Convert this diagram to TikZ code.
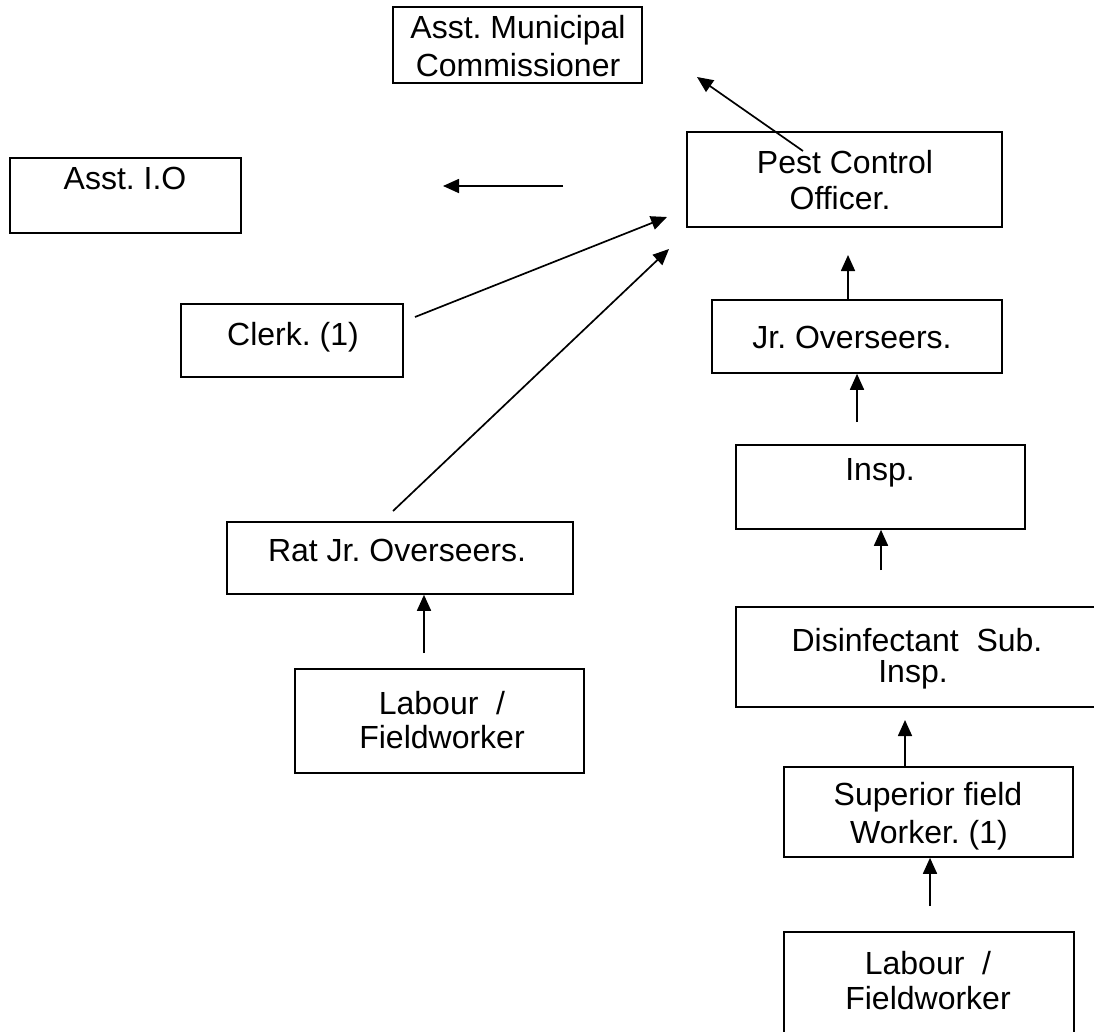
\documentclass[tikz,border=0pt]{standalone}
\usepackage{fontspec}
\setmainfont{Liberation Sans}
\usetikzlibrary{arrows.meta}
\frenchspacing
\tikzset{
  box/.style={draw=black, line width=1.6pt, rectangle, inner sep=0pt},
  txt/.style={font=\fontsize{32}{36}\selectfont, inner sep=0pt, align=center},
  conn/.style={line width=1.7pt, -{Triangle[length=16pt,width=14pt]}}
}
\newcommand{\boxat}[5]{% name, left, top, right, bottom
  \node[box, minimum width={(#4-#2)*1pt}, minimum height={(#5-#3)*1pt}] (#1) at ({(#2+#4)/2},{(#3+#5)/2}) {};}
\begin{document}
\begin{tikzpicture}[x=1pt,y=-1pt]
\useasboundingbox (0,0) rectangle (1094,1031);
\clip (0,0) rectangle (1094,1031);
% boxes
\boxat{amc}{393}{7}{642}{83}
\boxat{aio}{10}{158}{241}{233}
\boxat{pco}{687}{132}{1002}{227}
\boxat{clerk}{181}{304}{403}{377}
\boxat{jr}{712}{300}{1002}{373}
\boxat{insp}{736}{445}{1025}{529}
\boxat{rat}{227}{522}{573}{594}
\boxat{labl}{295}{669}{584}{773}
\boxat{dis}{736}{607}{1110}{707}
\boxat{sup}{784}{767}{1073}{857}
\boxat{labr}{784}{932}{1074}{1050}
% texts
\node[txt] (tamc1) at (518,30) {Asst. Municipal};
\node[txt] (tamc2) at (518,65) {Commissioner};
\node[txt] (taio) at (125,178) {Asst. I.O};
\node[txt] (tpco1) at (845,162) {Pest Control};
\node[txt] (tpco2) at (840,198) {Officer.};
\node[txt] (tclerk) at (293,337) {Clerk. (1)};
\node[txt] (tjr) at (852,337) {Jr. Overseers.};
\node[txt] (tinsp) at (880,473) {Insp.};
\node[txt] (trat) at (397,550) {Rat Jr. Overseers.};
\node[txt] (tlabl1) at (442,703) {Labour\ \ /};
\node[txt] (tlabl2) at (442,737) {Fieldworker};
\node[txt] (tdis1) at (917,640) {Disinfectant\ \ Sub.};
\node[txt] (tdis2) at (913,675) {Insp.};
\node[txt] (tsup1) at (928,797) {Superior field};
\node[txt] (tsup2) at (929,835) {Worker. (1)};
\node[txt] (tlabr1) at (928,963) {Labour\ \ /};
\node[txt] (tlabr2) at (928,998) {Fieldworker};
% connector end points
\coordinate (a1s) at (803,151); \coordinate (a1e) at (697,77);
\coordinate (a2s) at (563,186); \coordinate (a2e) at (443,186);
\coordinate (a3s) at (415,317); \coordinate (a3e) at (667,217);
\coordinate (a4s) at (393,511); \coordinate (a4e) at (669,249);
\coordinate (a5e) at (848,255);
\coordinate (a6s) at (857,422);
\coordinate (a7s) at (881,570);
\coordinate (a8e) at (905,720);
\coordinate (a9s) at (930,906);
\coordinate (a10s) at (424,653);
% connectors
\draw[conn] (a1s) -- (a1e);
\draw[conn] (a2s) -- (a2e);
\draw[conn] (a3s) -- (a3e);
\draw[conn] (a4s) -- (a4e);
\draw[conn] (jr.north -| a5e) -- (a5e);
\draw[conn] (a6s) -- (a6s |- jr.south);
\draw[conn] (a7s) -- (a7s |- insp.south);
\draw[conn] (sup.north -| a8e) -- (a8e);
\draw[conn] (a9s) -- (a9s |- sup.south);
\draw[conn] (a10s) -- (a10s |- rat.south);
\end{tikzpicture}
\end{document}
